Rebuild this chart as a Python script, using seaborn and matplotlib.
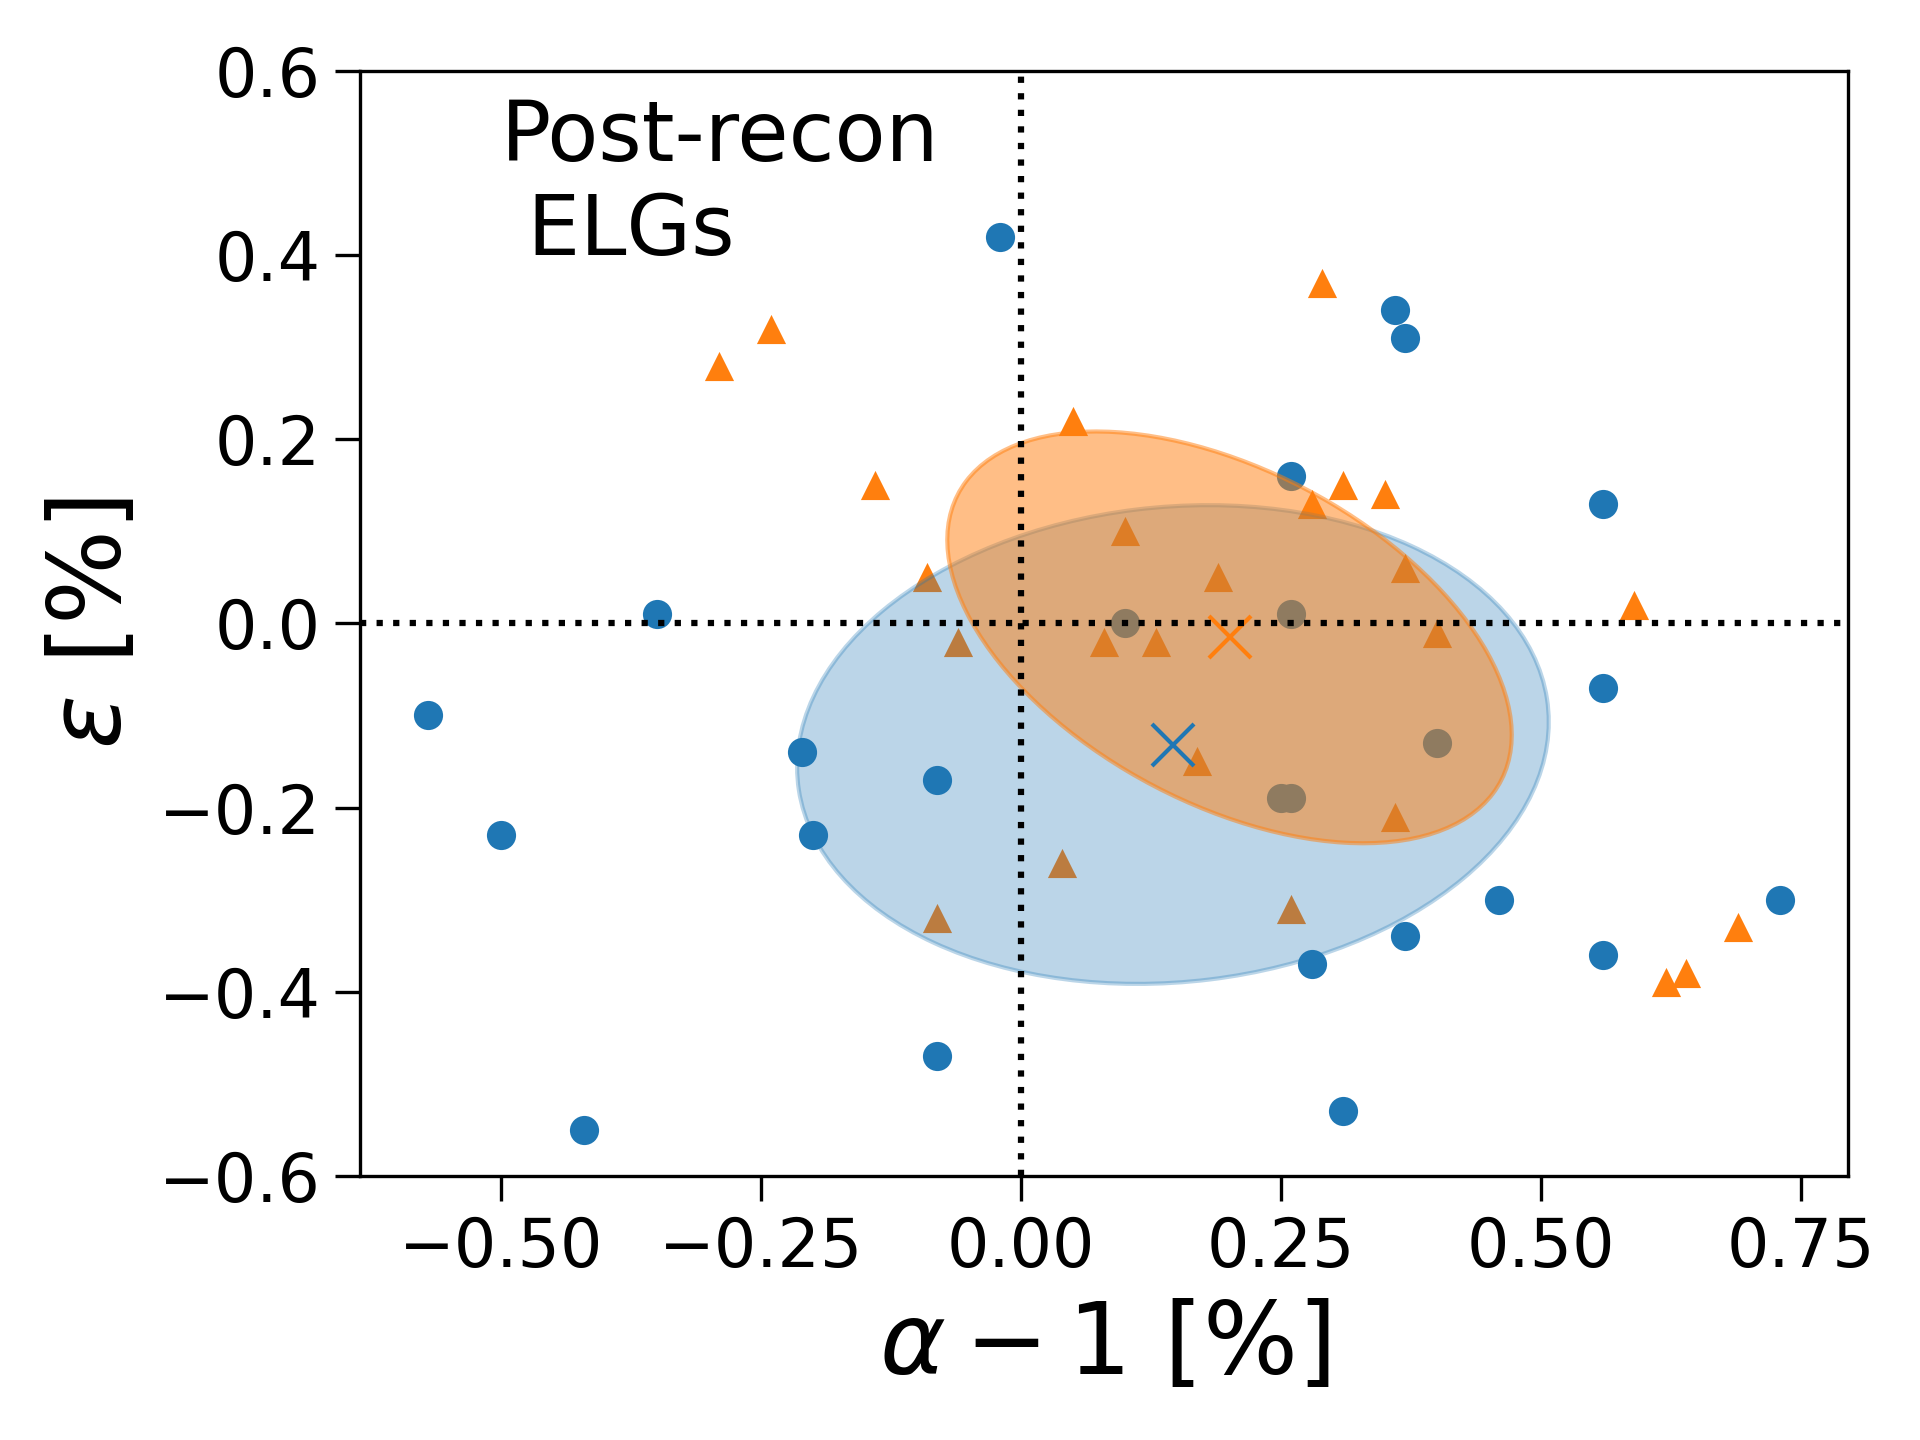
import numpy as np
import pandas as pd
import matplotlib
matplotlib.use('Agg')
import matplotlib.pyplot as plt
import seaborn as sns
from matplotlib.patches import Ellipse

# blue circles
alpha1_a = [-0.02, 0.36, 0.37, 0.26, 0.56, -0.35, 0.10, 0.26, 0.56, -0.57, -0.21, -0.08, 0.40,
            -0.50, -0.20, 0.25, 0.26, 0.46, 0.73, 0.37, 0.28, 0.56, -0.08, 0.31, -0.42]
eps_a = [0.42, 0.34, 0.31, 0.16, 0.13, 0.01, 0.00, 0.01, -0.07, -0.10, -0.14, -0.17, -0.13,
         -0.23, -0.23, -0.19, -0.19, -0.30, -0.30, -0.34, -0.37, -0.36, -0.47, -0.53, -0.55]

# orange triangles
alpha1_b = [0.29, -0.24, -0.29, 0.05, -0.14, 0.31, 0.35, 0.28, 0.10, -0.09, 0.19, 0.37, 0.59,
            -0.06, 0.08, 0.13, 0.40, 0.17, 0.36, 0.04, 0.26, -0.08, 0.69, 0.64, 0.62]
eps_b = [0.37, 0.32, 0.28, 0.22, 0.15, 0.15, 0.14, 0.13, 0.10, 0.05, 0.05, 0.06, 0.02,
         -0.02, -0.02, -0.02, -0.01, -0.15, -0.21, -0.26, -0.31, -0.32, -0.33, -0.38, -0.39]

da = pd.DataFrame({'x': alpha1_a, 'y': eps_a})
db = pd.DataFrame({'x': alpha1_b, 'y': eps_b})


def cov_ellipse(df, color, alpha):
    mean = df[['x', 'y']].mean().values
    cov = np.cov(df['x'], df['y'])
    vals, vecs = np.linalg.eigh(cov)
    angle = np.degrees(np.arctan2(vecs[1, 1], vecs[0, 1]))
    w, h = 2 * np.sqrt(vals[1]), 2 * np.sqrt(vals[0])
    return mean, Ellipse(mean, w, h, angle=angle, color=color, alpha=alpha)


fig, ax = plt.subplots(figsize=(6.4, 4.8), dpi=300)

sns.scatterplot(data=da, x='x', y='y', color='C0', marker='o', s=49, linewidth=0, ax=ax)
sns.scatterplot(data=db, x='x', y='y', color='C1', marker='^', s=49, linewidth=0, ax=ax)

mean_a, ell_a = cov_ellipse(da, 'C0', 0.3)
mean_b, ell_b = cov_ellipse(db, 'C1', 0.5)
ax.add_patch(ell_a)
ax.add_patch(ell_b)

ax.plot(mean_a[0], mean_a[1], 'x', color='C0', markersize=10)
ax.plot(mean_b[0], mean_b[1], 'x', color='C1', markersize=10)

ax.axvline(0, color='k', ls=':')
ax.axhline(0, color='k', ls=':')

ax.text(-0.5, 0.4, 'Post-recon\n ELGs', fontsize=20)

ax.set_ylim(-0.6, 0.6)
ax.set_xlabel(r'$\alpha-1$ [%]', fontsize=24)
ax.set_ylabel(r'$\varepsilon$ [%]', fontsize=24)
ax.tick_params(labelsize=16, length=6)

fig.tight_layout()
fig.savefig('out.png', dpi=300)
